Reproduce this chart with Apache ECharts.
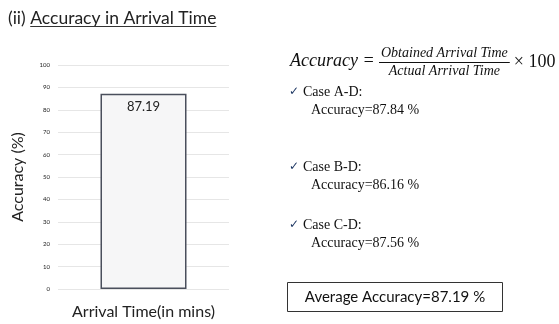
<!DOCTYPE html>
<html>
<head>
<meta charset="utf-8">
<script src="https://cdn.jsdelivr.net/npm/echarts@6/dist/echarts.min.js"></script>
<style>
  html, body { margin: 0; padding: 0; background: #fff; }
  #chart { width: 559px; height: 324px; }
</style>
</head>
<body>
<div id="chart"></div>
<script>
// Bar chart data
const categories = ['Arrival Time(in mins)'];
const accuracyValues = [87.19];
const yTicks = [0, 10, 20, 30, 40, 50, 60, 70, 80, 90, 100];

// Per-case results listed beside the chart
const caseNames = ['Case A-D:', 'Case B-D:', 'Case C-D:'];
const caseAccuracies = [87.84, 86.16, 87.56];
const averageAccuracy = 87.19;

const sansFont = 'Lato, "Open Sans", sans-serif';
const serifFont = '"Liberation Serif", "DejaVu Serif", serif';

const chart = echarts.init(document.getElementById('chart'), null, { renderer: 'canvas' });

function textWidth(str, font) {
  const c = document.createElement('canvas').getContext('2d');
  c.font = font;
  return c.measureText(str).width;
}

// Title: "(ii) " followed by an underlined heading
const titlePrefix = '(ii) ';
const titleMain = 'Accuracy in Arrival Time';
const titleFont = '17.5px ' + sansFont;
const prefixW = textWidth(titlePrefix, titleFont);
const mainW = textWidth(titleMain, titleFont);

// Formula pieces
const numText = 'Obtained Arrival Time';
const denText = 'Actual Arrival Time';
const fracFont = 'italic 14px ' + serifFont;
const fracW = Math.max(textWidth(numText, fracFont), textWidth(denText, fracFont)) + 4;
const fracX = 379;

const graphics = [
  { type: 'text', x: 8, y: 18, style: { text: titlePrefix, font: titleFont, fill: '#222', verticalAlign: 'middle' } },
  { type: 'text', x: 8 + prefixW, y: 18, style: { text: titleMain, font: titleFont, fill: '#222', verticalAlign: 'middle' } },
  { type: 'line', shape: { x1: 8 + prefixW, y1: 26.5, x2: 8 + prefixW + mainW, y2: 26.5 },
    style: { stroke: '#333', lineWidth: 1 } },

  // Accuracy = Obtained / Actual × 100
  { type: 'text', x: 290, y: 61, style: { text: 'Accuracy =', font: 'italic 18px ' + serifFont, fill: '#111', verticalAlign: 'middle' } },
  { type: 'text', x: fracX + fracW / 2, y: 53, style: { text: numText, font: fracFont, fill: '#111', align: 'center', verticalAlign: 'middle' } },
  { type: 'line', shape: { x1: fracX, y1: 62.5, x2: fracX + fracW, y2: 62.5 }, style: { stroke: '#111', lineWidth: 1 } },
  { type: 'text', x: fracX + fracW / 2, y: 71, style: { text: denText, font: fracFont, fill: '#111', align: 'center', verticalAlign: 'middle' } },
  { type: 'text', x: fracX + fracW + 4, y: 62, style: { text: '× 100', font: '18px ' + serifFont, fill: '#111', verticalAlign: 'middle' } }
];

// Case list
const caseRows = [92, 167, 225];
caseNames.forEach(function (name, i) {
  const y = caseRows[i];
  graphics.push({ type: 'text', x: 289, y: y, style: { text: '✓', font: '12px "DejaVu Sans", sans-serif', fill: '#1f3864', verticalAlign: 'middle' } });
  graphics.push({ type: 'text', x: 303, y: y, style: { text: name, font: '14px ' + serifFont, fill: '#111', verticalAlign: 'middle' } });
  graphics.push({ type: 'text', x: 311, y: y + 18.5, style: { text: 'Accuracy=' + caseAccuracies[i].toFixed(2) + ' %', font: '14px ' + serifFont, fill: '#111', verticalAlign: 'middle' } });
});

// Boxed average
graphics.push({ type: 'rect', shape: { x: 287.5, y: 282.5, width: 215, height: 29 }, style: { fill: '#fff', stroke: '#333', lineWidth: 1 } });
graphics.push({ type: 'text', x: 395, y: 297, style: { text: 'Average Accuracy=' + averageAccuracy.toFixed(2) + ' %', font: '15px ' + sansFont, fill: '#111', align: 'center', verticalAlign: 'middle' } });

chart.setOption({
  animation: false,
  backgroundColor: '#fff',
  grid: { left: 58, right: 330, top: 65, bottom: 35 },
  xAxis: {
    type: 'category',
    data: categories,
    axisLine: { show: false },
    axisTick: { show: false },
    axisLabel: { margin: 15, fontFamily: sansFont, fontSize: 16, color: '#222' }
  },
  yAxis: {
    type: 'value',
    min: yTicks[0],
    max: yTicks[yTicks.length - 1],
    interval: 10,
    name: 'Accuracy (%)',
    nameLocation: 'middle',
    nameGap: 32,
    nameTextStyle: { fontFamily: sansFont, fontSize: 16, color: '#222' },
    axisLine: { show: false },
    axisTick: { show: false },
    axisLabel: { margin: 8, fontFamily: sansFont, fontSize: 6, color: '#222' },
    splitLine: { lineStyle: { color: '#e6e6e6', width: 1 } }
  },
  series: [{
    type: 'bar',
    data: accuracyValues,
    barWidth: 86,
    itemStyle: { color: '#f6f6f7', borderColor: '#4a4f5c', borderWidth: 1.5 },
    label: {
      show: true,
      position: 'insideTop',
      distance: 7,
      formatter: function (p) { return p.value.toFixed(2); },
      fontFamily: sansFont,
      fontSize: 13,
      color: '#222'
    }
  }],
  graphic: graphics
});
</script>
</body>
</html>
